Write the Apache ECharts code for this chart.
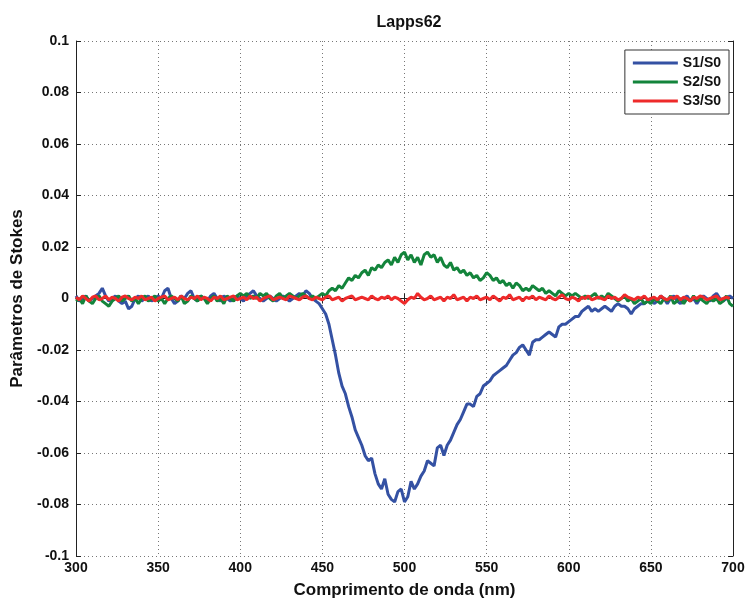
<!DOCTYPE html>
<html><head><meta charset="utf-8">
<script src="https://cdn.jsdelivr.net/npm/echarts@6/dist/echarts.min.js"></script>
<style>html,body{margin:0;padding:0;background:#fff}#c{width:749px;height:604px}</style>
</head><body><div id="c"></div>
<script>
const wavelength = [300,302,304,306,308,310,312,314,316,318,320,322,324,326,328,330,332,334,336,338,340,342,344,346,348,350,352,354,356,358,360,362,364,366,368,370,372,374,376,378,380,382,384,386,388,390,392,394,396,398,400,402,404,406,408,410,412,414,416,418,420,422,424,426,428,430,432,434,436,438,440,442,444,446,448,450,452,454,456,458,460,462,464,466,468,470,472,474,476,478,480,482,484,486,488,490,492,494,496,498,500,502,504,506,508,510,512,514,516,518,520,522,524,526,528,530,532,534,536,538,540,542,544,546,548,550,552,554,556,558,560,562,564,566,568,570,572,574,576,578,580,582,584,586,588,590,592,594,596,598,600,602,604,606,608,610,612,614,616,618,620,622,624,626,628,630,632,634,636,638,640,642,644,646,648,650,652,654,656,658,660,662,664,666,668,670,672,674,676,678,680,682,684,686,688,690,692,694,696,698,700];

const s1 = [0.001,-0.001,0.000,0.001,-0.001,0.000,0.001,0.002,0.004,0.001,-0.001,0.000,0.001,-0.001,-0.002,-0.001,-0.004,-0.003,0.000,0.001,-0.001,0.000,0.001,-0.001,0.000,0.001,0.000,0.003,0.004,0.000,-0.002,-0.001,0.001,0.000,0.002,0.003,0.000,-0.001,0.001,0.000,-0.001,0.001,0.002,0.000,-0.001,0.001,0.000,-0.001,0.000,0.001,0.000,-0.001,0.001,0.002,0.003,0.001,0.000,-0.001,0.000,0.001,0.000,-0.001,0.000,0.001,0.000,-0.001,0.000,0.001,0.002,0.001,0.003,0.002,0.000,-0.001,-0.002,-0.004,-0.006,-0.010,-0.016,-0.022,-0.029,-0.034,-0.037,-0.042,-0.046,-0.051,-0.054,-0.057,-0.061,-0.063,-0.062,-0.068,-0.072,-0.074,-0.070,-0.076,-0.078,-0.079,-0.075,-0.074,-0.079,-0.077,-0.071,-0.074,-0.072,-0.069,-0.067,-0.063,-0.064,-0.065,-0.058,-0.057,-0.061,-0.057,-0.055,-0.052,-0.049,-0.047,-0.044,-0.041,-0.041,-0.042,-0.038,-0.037,-0.034,-0.033,-0.032,-0.030,-0.029,-0.028,-0.027,-0.026,-0.024,-0.022,-0.021,-0.019,-0.018,-0.020,-0.022,-0.017,-0.016,-0.016,-0.015,-0.014,-0.013,-0.014,-0.015,-0.011,-0.010,-0.010,-0.009,-0.008,-0.007,-0.007,-0.005,-0.004,-0.003,-0.005,-0.004,-0.005,-0.004,-0.003,-0.004,-0.005,-0.003,-0.002,-0.003,-0.003,-0.004,-0.006,-0.004,-0.003,-0.002,-0.002,-0.001,0.000,-0.002,-0.001,0.001,0.000,-0.002,0.000,0.001,-0.001,-0.002,0.000,0.001,-0.001,0.000,-0.002,0.000,0.001,0.000,-0.001,0.001,0.002,0.000,-0.001,0.000,0.001,0.000];

const s2 = [-0.001,0.000,-0.002,0.001,-0.001,-0.002,0.000,0.001,-0.001,-0.002,-0.003,-0.001,0.000,0.001,-0.001,0.000,0.001,-0.001,0.000,-0.002,0.000,0.001,-0.001,0.000,0.001,-0.001,0.000,-0.002,0.000,0.001,0.000,-0.001,0.001,-0.002,-0.001,0.001,0.000,-0.001,0.001,0.000,-0.002,0.000,0.001,-0.001,0.000,-0.002,0.001,0.000,-0.001,0.001,0.002,0.001,0.002,0.000,0.001,0.000,0.002,0.001,0.002,0.000,-0.001,0.001,0.002,0.000,0.001,0.002,0.001,0.000,0.001,0.002,0.001,0.000,0.001,0.000,0.001,0.002,0.001,0.003,0.004,0.003,0.005,0.004,0.006,0.008,0.007,0.009,0.008,0.010,0.011,0.009,0.012,0.011,0.013,0.012,0.014,0.015,0.013,0.016,0.014,0.017,0.018,0.015,0.017,0.014,0.016,0.013,0.017,0.018,0.016,0.017,0.014,0.016,0.013,0.012,0.014,0.011,0.012,0.010,0.011,0.009,0.010,0.008,0.009,0.007,0.008,0.010,0.009,0.007,0.008,0.006,0.007,0.005,0.006,0.004,0.006,0.005,0.003,0.004,0.003,0.005,0.004,0.003,0.004,0.002,0.003,0.002,0.001,0.003,0.002,0.001,0.002,0.001,0.002,0.001,0.000,0.001,0.000,0.001,0.002,0.000,0.001,0.000,0.002,0.001,0.000,-0.001,0.000,0.001,-0.001,0.000,-0.002,-0.001,0.000,-0.002,-0.001,-0.002,0.000,-0.001,-0.002,0.000,-0.001,0.001,-0.002,-0.001,0.000,-0.002,0.000,-0.001,0.001,-0.001,0.000,-0.001,-0.002,0.000,-0.001,0.000,-0.002,-0.001,0.001,-0.002,-0.003];

const s3 = [0.0005,-0.0005,0.001,0.0000,-0.001,0.0005,0.001,-0.0005,0.0000,0.001,-0.0005,0.0005,0.0000,-0.001,0.0005,0.001,0.0000,-0.0005,0.0005,0.0000,0.001,-0.0005,0.0000,0.0005,-0.001,0.0000,0.0005,0.001,-0.0005,0.0000,0.0005,-0.0005,0.001,0.0000,-0.0005,0.0005,0.0000,0.001,-0.0005,0.0005,0.0000,-0.001,0.0005,0.0000,0.001,-0.0005,0.0000,0.0005,0.001,-0.0005,0.0000,0.0005,-0.0005,0.001,0.0000,0.0005,-0.001,0.0000,0.0005,0.001,-0.0005,0.0000,0.0005,0.0000,-0.0005,0.001,0.0005,0.0000,-0.0005,0.0005,0.001,0.0000,-0.0005,0.0005,0.0000,-0.0005,0.0005,0.001,-0.0005,0.0000,0.0005,-0.001,0.0000,0.0005,0.001,-0.0005,0.0000,0.0005,0.0000,-0.0005,0.001,0.0000,-0.0005,0.0005,0.0000,0.001,-0.0005,0.0005,0.0000,-0.001,-0.002,-0.0005,0.0005,0.0000,0.002,0.0005,-0.0005,0.0000,0.001,-0.0005,0.0000,0.0005,-0.001,0.0005,0.0000,0.0015,-0.0005,0.0000,0.0005,-0.001,0.0005,0.0000,0.001,-0.0005,0.0000,0.0005,-0.0005,0.001,0.0000,-0.001,0.0005,0.0000,0.0015,-0.0005,0.0000,0.0005,-0.001,0.0005,0.0000,0.001,-0.0005,0.0005,0.0000,-0.0005,0.001,0.0000,-0.0005,0.0005,0.0015,0.0000,-0.0005,0.0005,0.0000,-0.001,0.0005,0.0000,0.001,-0.0005,0.0000,0.0005,0.0000,-0.0005,0.001,0.0000,0.0005,-0.0005,0.0000,0.0015,0.0005,0.0000,-0.0005,0.0005,0.0000,0.001,-0.0005,0.0000,0.0005,-0.0005,0.001,0.0000,-0.0005,0.0005,0.0000,0.001,-0.0005,0.0005,0.0000,-0.001,0.0005,0.0000,0.001,0.0005,-0.0005,0.0000,0.0005,0.001,-0.0005,0.0000,0.0005,0.0000];

const seriesNames = ['S1/S0','S2/S0','S3/S0'];
const seriesColors = ['#3451a3','#13843b','#ee2a2a'];
const seriesValues = [s1, s2, s3];

const FONT = '"Liberation Sans", Arial, sans-serif';
const chart = echarts.init(document.getElementById('c'), null, {renderer:'canvas'});
const axisLine = {show:true, lineStyle:{color:'#222', width:1}};
const tickIn = {show:true, inside:true, length:5, lineStyle:{color:'#222'}};
const grid = {left:76, right:16, top:41, bottom:46};
chart.setOption({
  animation:false,
  backgroundColor:'#fff',
  title:{text:'Lapps62', left:404, top:10, textAlign:'center',
    textStyle:{fontFamily:FONT, fontSize:16, fontWeight:'bold', color:'#111'}},
  legend:{
    data:seriesNames.map(n=>({name:n, icon:'rect'})), orient:'vertical', right:20, top:50,
    backgroundColor:'#fff', borderColor:'#333', borderWidth:1,
    padding:[6,8,6,8], itemWidth:45, itemHeight:3, itemGap:5,
    textStyle:{fontFamily:FONT, fontSize:14, fontWeight:'bold', color:'#111', lineHeight:14}
  },
  grid:grid,
  xAxis:[{
    type:'value', min:300, max:700, interval:50,
    name:'Comprimento de onda (nm)', nameLocation:'middle', nameGap:26,
    nameTextStyle:{fontFamily:FONT, fontSize:17, fontWeight:'bold', color:'#111'},
    axisLine:axisLine, axisTick:tickIn,
    axisLabel:{fontFamily:FONT, fontSize:14, fontWeight:'bold', color:'#111', margin:5},
    splitLine:{show:true, lineStyle:{type:[1,3], color:'#777', width:1}}
  },{
    type:'value', position:'top', min:300, max:700, interval:50,
    axisLine:axisLine, axisTick:tickIn, axisLabel:{show:false}, splitLine:{show:false}
  }],
  yAxis:[{
    type:'value', min:-0.1, max:0.1, interval:0.02,
    name:'Parâmetros de Stokes', nameLocation:'middle', nameGap:48,
    nameTextStyle:{fontFamily:FONT, fontSize:17, fontWeight:'bold', color:'#111'},
    axisLine:axisLine, axisTick:tickIn,
    axisLabel:{fontFamily:FONT, fontSize:14, fontWeight:'bold', color:'#111', margin:7,
      formatter:v=>String(+v.toFixed(2))},
    splitLine:{show:true, lineStyle:{type:[1,3], color:'#777', width:1}}
  },{
    type:'value', position:'right', min:-0.1, max:0.1, interval:0.02,
    axisLine:axisLine, axisTick:tickIn, axisLabel:{show:false}, splitLine:{show:false}
  }],
  series: seriesNames.map((n,i)=>({
    name:n, type:'line', symbol:'none', showSymbol:false,
    color:seriesColors[i],
    itemStyle:{color:seriesColors[i]},
    lineStyle:{color:seriesColors[i], width:3},
    data: wavelength.map((w,k)=>[w, seriesValues[i][k]]),
    z: 2+i
  }))
});
</script></body></html>
